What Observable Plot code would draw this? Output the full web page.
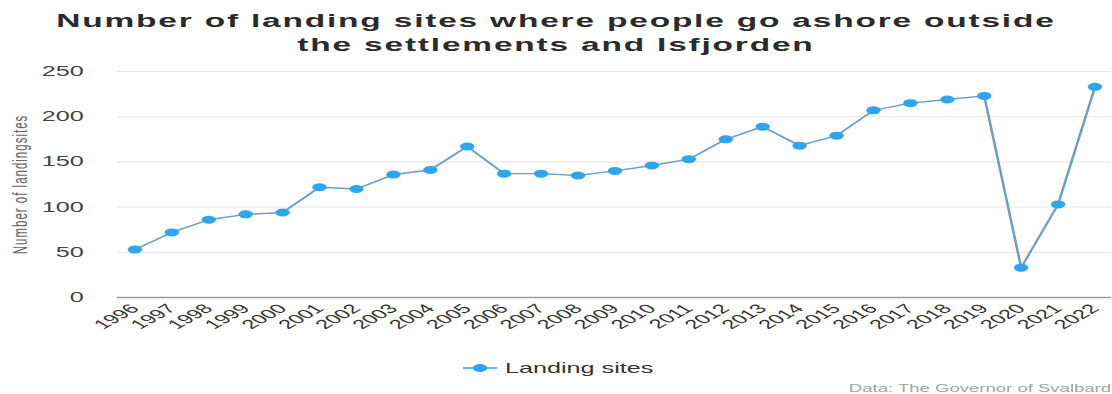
<!DOCTYPE html>
<html>
<head>
<meta charset="utf-8">
<script src="https://cdn.jsdelivr.net/npm/d3@7"></script>
<script src="https://cdn.jsdelivr.net/npm/@observablehq/plot@0.6"></script>
<style>
  html, body { margin: 0; padding: 0; background: #fff; overflow: hidden; }
  body { width: 1112px; height: 394px; font-family: "Liberation Sans", Arial, sans-serif; }
  #figure { position: relative; width: 1112px; height: 394px; }
  #figure > svg { position: absolute; left: 0; display: block; }
</style>
</head>
<body>
<div id="figure"></div>
<script>
// Landing sites outside the settlements and Isfjorden, per year
const years = ["1996","1997","1998","1999","2000","2001","2002","2003","2004","2005","2006","2007","2008",
               "2009","2010","2011","2012","2013","2014","2015","2016","2017","2018","2019","2020","2021","2022"];
const landingSites = [53, 72, 86, 92, 94, 122, 120, 136, 141, 167, 137, 137, 135,
                      140, 146, 153, 175, 189, 168, 179, 207, 215, 219, 223, 33, 103, 233];
const yTicks = [0, 50, 100, 150, 200, 250];
const titleLines = ["Number of landing sites where people go ashore outside", "the settlements and Isfjorden"];
const seriesName = "Landing sites";
const yLabel = "Number of landingsites";
const source = "Data: The Governor of Svalbard";

// Everything is drawn in a narrow coordinate system and widened horizontally
const FULL_WIDTH = 1112;
const STRETCH = 1.8;
const W = FULL_WIDTH / STRETCH;
const font = "'Liberation Sans', Arial, sans-serif";
const lineColor = "#6a9fc4";
const dotColor = "#2ea6ee";

const figure = document.getElementById("figure");

// Widen an svg drawn at width W to the full page width
function widen(svg, top, height) {
  svg.setAttribute("viewBox", `0 0 ${W} ${height}`);
  svg.setAttribute("width", FULL_WIDTH);
  svg.setAttribute("height", height);
  svg.setAttribute("preserveAspectRatio", "none");
  svg.style.top = top + "px";
  svg.style.overflow = "visible";
  return svg;
}

// Title
const header = d3.create("svg").attr("font-family", font);
header.selectAll("text").data(titleLines).join("text")
  .attr("x", W / 2)
  .attr("y", (d, i) => 27 + i * 24)
  .attr("text-anchor", "middle")
  .attr("font-size", 18.6)
  .attr("font-weight", "bold")
  .attr("letter-spacing", 1)
  .attr("fill", "#2b2b2b")
  .text(d => d);
figure.append(widen(header.node(), 0, 60));

// Line chart
const data = years.map((year, i) => ({year, value: landingSites[i]}));
const chart = Plot.plot({
  width: W,
  height: 300,
  marginLeft: 65,
  marginRight: 0.5,
  marginTop: 11,
  marginBottom: 63,
  style: {fontFamily: font, background: "transparent"},
  x: {type: "point", domain: years, padding: 0.46, round: false},
  y: {domain: [0, 250]},
  marks: [
    Plot.gridY(yTicks.filter(d => d > 0), {stroke: "#e3e3e3", strokeOpacity: 1, strokeWidth: 1}),
    Plot.ruleY([0], {stroke: "#9a9a9a", strokeWidth: 1.6}),
    Plot.axisY(yTicks, {tickSize: 0, tickPadding: 19, fontSize: 14, fill: "#444", label: null}),
    Plot.axisX({tickSize: 0, tickRotate: -45, tickPadding: 9, fontSize: 13, fill: "#333", label: null}),
    Plot.text([yLabel], {frameAnchor: "left", rotate: -90, dx: -54, fontSize: 11.5, fill: "#666",
                         lineAnchor: "middle", textAnchor: "middle"}),
    Plot.line(data, {x: "year", y: "value", stroke: lineColor, strokeWidth: 1.4}),
    Plot.dot(data, {x: "year", y: "value", r: 4, fill: dotColor, stroke: "none"})
  ]
});
d3.select(chart).selectAll("g[aria-label='text'] text").attr("letter-spacing", "1px");
figure.append(widen(chart, 60, 300));

// Legend and source note
const footer = d3.create("svg").attr("font-family", font);
const legendText = footer.append("text")
  .attr("x", 280.5).attr("y", 13)
  .attr("font-size", 14).attr("fill", "#333")
  .text(seriesName);
const swatch = footer.append("g").attr("transform", "translate(266.7,8)");
swatch.append("line").attr("x1", -9.5).attr("x2", 9.5)
  .attr("stroke", dotColor).attr("stroke-width", 1.4);
swatch.append("circle").attr("r", 4).attr("fill", dotColor);
footer.append("text")
  .attr("x", W - 0.5).attr("y", 32)
  .attr("text-anchor", "end")
  .attr("font-size", 10.3).attr("fill", "#a3a3a3")
  .text(source);
figure.append(widen(footer.node(), 360, 34));
</script>
</body>
</html>
